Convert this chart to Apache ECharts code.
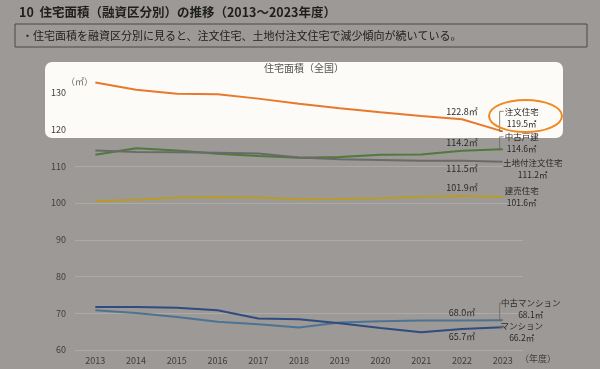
<!DOCTYPE html>
<html><head><meta charset="utf-8">
<script src="https://cdn.jsdelivr.net/npm/echarts@6/dist/echarts.min.js"></script>
<style>html,body{margin:0;padding:0;background:#9c9996;}#c{width:600px;height:369px;}</style>
</head><body><div id="c"></div>
<script>
const years = ['2013','2014','2015','2016','2017','2018','2019','2020','2021','2022','2023'];
const chumon = [132.8, 130.8, 129.7, 129.6, 128.4, 127.0, 125.8, 124.7, 123.7, 122.8, 119.5];
const chukoKodate = [113.1, 114.9, 114.3, 113.4, 112.8, 112.3, 112.5, 113.1, 113.2, 114.2, 114.6];
const tochitsuki = [114.3, 113.9, 113.8, 113.7, 113.5, 112.4, 111.9, 111.7, 111.5, 111.5, 111.2];
const tateuri = [100.5, 100.9, 101.5, 101.6, 101.5, 101.0, 101.1, 101.3, 101.7, 101.9, 101.6];
const chukoMansion = [70.8, 70.1, 69.0, 67.7, 67.0, 66.1, 67.5, 67.8, 68.0, 68.0, 68.1];
const mansion = [71.7, 71.7, 71.5, 70.8, 68.6, 68.4, 67.3, 66.0, 64.8, 65.7, 66.2];
const yTicks = [60, 70, 80, 90, 100, 110, 120, 130];

const seriesDefs = [
  {name:'注文住宅', data:chumon, color:'#e8782a', off:[19,-14], vpos:'top', lead:true},
  {name:'中古戸建', data:chukoKodate, color:'#4e7a3c', off:[19,-6.5], vpos:'top', lead:true},
  {name:'土地付注文住宅', data:tochitsuki, color:'#6b6a6a', off:[30,6.7], vpos:'bottom', lead:false},
  {name:'建売住宅', data:tateuri, color:'#b89c28', off:[19,0], vpos:'top', lead:false},
  {name:'中古マンション', data:chukoMansion, color:'#4d7393', off:[28,-11], vpos:'top', lead:true},
  {name:'マンション', data:mansion, color:'#2e4c80', off:[19,5], vpos:'bottom', lead:true}
];
const FONT = '"Noto Sans CJK JP","Noto Sans",sans-serif';
const chart = echarts.init(document.getElementById('c'));
const series = seriesDefs.map(d => ({
  name: d.name, type: 'line', symbol: 'circle', symbolSize: 1, showSymbol: true, z: 5,
  lineStyle: {color: d.color, width: 2},
  itemStyle: {color: 'rgba(0,0,0,0)'},
  label: {show: false},
  data: d.data.map((v, i) => i === 9 ? {value: v, label: {show: true, position: d.vpos, distance: 3,
      formatter: p => p.value.toFixed(1) + '㎡', fontSize: 9, color: '#2a2a2a', fontFamily: FONT}} : v),
  endLabel: {show: true, position: 'right', distance: 0, align: 'center', verticalAlign: 'middle',
    offset: d.off, formatter: p => p.seriesName + '\n' + p.value.toFixed(1) + '㎡',
    fontSize: 8.5, lineHeight: 12, color: '#2a2a2a', fontFamily: FONT}
}));
const baseGraphic = [
  {type: 'rect', shape: {x: 15, y: 24, width: 572, height: 23}, style: {fill: 'none', stroke: '#4a4a4a', lineWidth: 1}, z: 1},
  {type: 'text', x: 22, y: 36, style: {text: '・住宅面積を融資区分別に見ると、注文住宅、土地付注文住宅で減少傾向が続いている。', fontSize: 11, fill: '#1e1e1e', verticalAlign: 'middle', fontFamily: FONT}, z: 2},
  {type: 'rect', shape: {x: 45, y: 62, width: 518, height: 76, r: 7}, style: {fill: '#fdfbf7'}, z: -100},
  {type: 'text', x: 304, y: 68, style: {text: '住宅面積（全国）', fontSize: 10, fill: '#555', align: 'center', verticalAlign: 'middle', fontFamily: FONT}, z: 2},
  {type: 'text', x: 66, y: 82, style: {text: '（㎡）', fontSize: 9, fill: '#666', verticalAlign: 'middle', fontFamily: FONT}, z: 2},
  {type: 'text', x: 520, y: 359, style: {text: '（年度）', fontSize: 9, fill: '#3e3e3e', verticalAlign: 'middle', fontFamily: FONT}, z: 2},
  {type: 'ellipse', shape: {cx: 525.5, cy: 116, rx: 36.5, ry: 16}, style: {fill: 'none', stroke: '#f0891f', lineWidth: 2}, z: 10}
];
chart.setOption({
  animation: false,
  backgroundColor: '#9c9996',
  title: {text: '10  住宅面積（融資区分別）の推移（2013～2023年度）', left: 19, top: 6, padding: 0,
    textStyle: {fontSize: 12.5, fontWeight: 'bold', color: '#1e1e1e', fontFamily: FONT}},
  grid: {left: 75, right: 77, top: 56, bottom: 19},
  xAxis: {type: 'category', data: years, boundaryGap: true,
    axisLine: {show: false}, axisTick: {show: false},
    axisLabel: {fontSize: 9, color: '#3e3e3e', margin: 6, fontFamily: FONT}},
  yAxis: {type: 'value', min: 60, max: 140, interval: 10,
    axisLine: {show: false}, axisTick: {show: false},
    axisLabel: {fontSize: 9, color: '#3e3e3e', margin: 9, showMaxLabel: false, fontFamily: FONT,
      formatter: v => yTicks.includes(v) ? String(v) : ''},
    splitLine: {showMaxLine: false, lineStyle: {color: 'rgba(255,255,255,0.18)', width: 1}}},
  graphic: baseGraphic,
  series: series
});
// leader brackets from line ends to end labels, positioned via the chart's own scales
const leaders = [];
seriesDefs.forEach((d, i) => {
  if (!d.lead) return;
  const last = d.data.length - 1;
  const p = chart.convertToPixel({seriesIndex: i}, [last, d.data[last]]);
  const yTop = p[1] + d.off[1] - 6;
  const x0 = p[0] - 3;
  leaders.push({type: 'polyline', shape: {points: [[p[0], p[1]], [x0, p[1]], [x0, yTop], [x0 + 4, yTop]]},
    style: {stroke: '#6a6a6a', lineWidth: 0.8, fill: 'none'}, z: 6});
});
chart.setOption({graphic: baseGraphic.concat(leaders)});
</script></body></html>
